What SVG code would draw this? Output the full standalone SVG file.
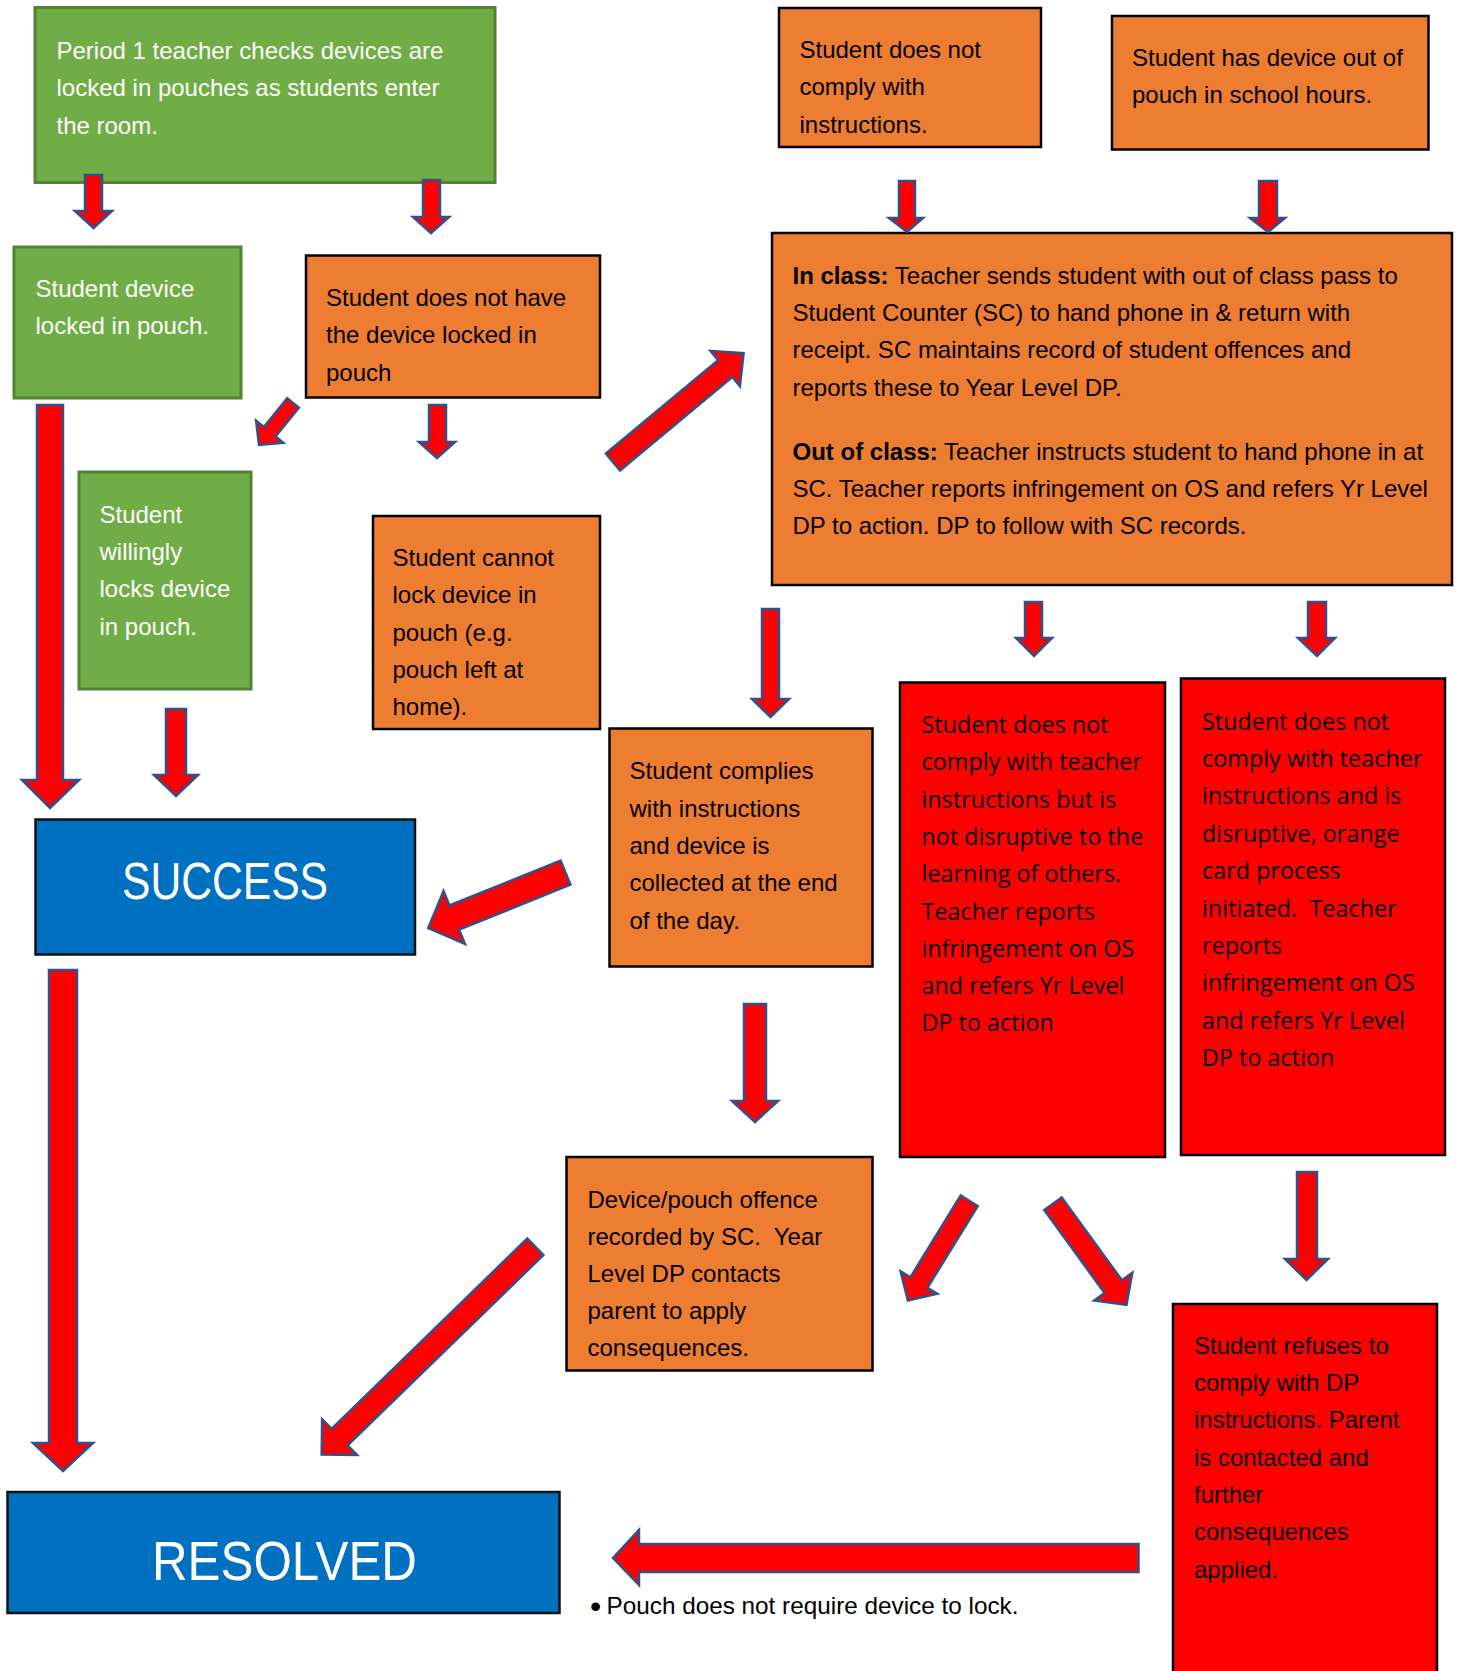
<svg xmlns="http://www.w3.org/2000/svg" width="1459" height="1671" viewBox="0 0 1459 1671">
<style>
.g{fill:#70AD47;stroke:#548235;stroke-width:3}
.o{fill:#ED7D31;stroke:#000;stroke-width:2.5}
.r{fill:#FF0000;stroke:#000;stroke-width:2.5}
.b{fill:#0070C0;stroke:#111;stroke-width:2.5}
.t{font-family:"Liberation Sans",Arial,sans-serif;font-size:24px;fill:#000;white-space:pre}
.w{fill:#fff}
.os{font-family:"Open Sans","Liberation Sans",sans-serif;font-size:23.4px;fill:#000;white-space:pre}
.big{font-family:"Liberation Sans",Arial,sans-serif;fill:#fff;text-anchor:middle}
.a{fill:#FF0000;stroke:#2F528F;stroke-width:2.5;stroke-linejoin:miter}
</style>
<rect width="1459" height="1671" fill="#fff"/>

<g id="n1">
<rect class="g" x="35" y="7.5" width="460" height="175"/>
<text class="t w" x="56.5" y="58.5">Period 1 teacher checks devices are</text>
<text class="t w" x="56.5" y="96">locked in pouches as students enter</text>
<text class="t w" x="56.5" y="133.5">the room.</text>
</g>

<g id="n2">
<rect class="g" x="14" y="247" width="227" height="151"/>
<text class="t w" x="35.5" y="297">Student device</text>
<text class="t w" x="35.5" y="334">locked in pouch.</text>
</g>

<g id="n3">
<rect class="o" x="306" y="255.5" width="294" height="142"/>
<text class="t" x="326" y="305.5">Student does not have</text>
<text class="t" x="326" y="343">the device locked in</text>
<text class="t" x="326" y="380.5">pouch</text>
</g>

<g id="n4">
<rect class="g" x="79" y="472" width="172" height="217"/>
<text class="t w" x="99.5" y="522.5">Student</text>
<text class="t w" x="99.5" y="560">willingly</text>
<text class="t w" x="99.5" y="597">locks device</text>
<text class="t w" x="99.5" y="634.5">in pouch.</text>
</g>

<g id="n5">
<rect class="o" x="373" y="516" width="227" height="213"/>
<text class="t" x="392.5" y="565.5">Student cannot</text>
<text class="t" x="392.5" y="603">lock device in</text>
<text class="t" x="392.5" y="640.5">pouch (e.g.</text>
<text class="t" x="392.5" y="678">pouch left at</text>
<text class="t" x="392.5" y="715">home).</text>
</g>

<g id="n6">
<rect class="o" x="779" y="8" width="262" height="139"/>
<text class="t" x="799.5" y="57.5">Student does not</text>
<text class="t" x="799.5" y="95">comply with</text>
<text class="t" x="799.5" y="132.5">instructions.</text>
</g>

<g id="n7">
<rect class="o" x="1112" y="16" width="316.5" height="133.5"/>
<text class="t" x="1132" y="65.5">Student has device out of</text>
<text class="t" x="1132" y="103">pouch in school hours.</text>
</g>

<g id="n8">
<rect class="o" x="772" y="233" width="680" height="352"/>
<text class="t" x="792.5" y="283.5"><tspan font-weight="bold">In class:</tspan> Teacher sends student with out of class pass to</text>
<text class="t" x="792.5" y="320.8">Student Counter (SC) to hand phone in &amp; return with</text>
<text class="t" x="792.5" y="358.2">receipt. SC maintains record of student offences and</text>
<text class="t" x="792.5" y="395.5">reports these to Year Level DP.</text>
<text class="t" x="792.5" y="459.5"><tspan font-weight="bold">Out of class:</tspan> Teacher instructs student to hand phone in at</text>
<text class="t" x="792.5" y="497">SC. Teacher reports infringement on OS and refers Yr Level</text>
<text class="t" x="792.5" y="534">DP to action. DP to follow with SC records.</text>
</g>

<g id="n9">
<rect class="o" x="609.5" y="728.5" width="263" height="238"/>
<text class="t" x="629.5" y="779">Student complies</text>
<text class="t" x="629.5" y="816.5">with instructions</text>
<text class="t" x="629.5" y="854">and device is</text>
<text class="t" x="629.5" y="891">collected at the end</text>
<text class="t" x="629.5" y="928.5">of the day.</text>
</g>

<g id="n10">
<rect class="b" x="35.5" y="819.5" width="379.5" height="135"/>
<text class="big" x="225" y="899" font-size="51" textLength="206" lengthAdjust="spacingAndGlyphs">SUCCESS</text>
</g>

<g id="n11">
<rect class="o" x="566.5" y="1157" width="306" height="213.5"/>
<text class="t" x="587.5" y="1207.5">Device/pouch offence</text>
<text class="t" x="587.5" y="1244.5">recorded by SC.  Year</text>
<text class="t" x="587.5" y="1282">Level DP contacts</text>
<text class="t" x="587.5" y="1319">parent to apply</text>
<text class="t" x="587.5" y="1356">consequences.</text>
</g>

<g id="n12">
<rect class="r" x="900" y="682.5" width="265" height="474.5"/>
<text class="os" x="921.5" y="733">Student does not</text>
<text class="os" x="921.5" y="770.3">comply with teacher</text>
<text class="os" x="921.5" y="807.6">instructions but is</text>
<text class="os" x="921.5" y="844.9">not disruptive to the</text>
<text class="os" x="921.5" y="882.2">learning of others.</text>
<text class="os" x="921.5" y="919.5">Teacher reports</text>
<text class="os" x="921.5" y="956.8">infringement on OS</text>
<text class="os" x="921.5" y="994.1">and refers Yr Level</text>
<text class="os" x="921.5" y="1031.4">DP to action</text>
</g>

<g id="n13">
<rect class="r" x="1181" y="678.5" width="264" height="476.5"/>
<text class="os" x="1202" y="729.5">Student does not</text>
<text class="os" x="1202" y="766.9">comply with teacher</text>
<text class="os" x="1202" y="804.3">instructions and is</text>
<text class="os" x="1202" y="841.7">disruptive, orange</text>
<text class="os" x="1202" y="879.1">card process</text>
<text class="os" x="1202" y="916.5">initiated.  Teacher</text>
<text class="os" x="1202" y="953.9">reports</text>
<text class="os" x="1202" y="991.3">infringement on OS</text>
<text class="os" x="1202" y="1028.7">and refers Yr Level</text>
<text class="os" x="1202" y="1066.1">DP to action</text>
</g>

<g id="n14">
<rect class="r" x="1173" y="1304" width="264" height="400"/>
<text class="t" x="1194" y="1353.5">Student refuses to</text>
<text class="t" x="1194" y="1391">comply with DP</text>
<text class="t" x="1194" y="1428.3">instructions. Parent</text>
<text class="t" x="1194" y="1465.5">is contacted and</text>
<text class="t" x="1194" y="1502.8">further</text>
<text class="t" x="1194" y="1540">consequences</text>
<text class="t" x="1194" y="1577.5">applied.</text>
</g>

<g id="n15">
<rect class="b" x="7.5" y="1492" width="552" height="121"/>
<text class="big" x="284.5" y="1579.5" font-size="56" textLength="265" lengthAdjust="spacingAndGlyphs">RESOLVED</text>
</g>

<g id="note">
<text class="t" x="590" y="1617" style="font-size:32px">•</text>
<text class="t" x="606.5" y="1614" style="font-size:24.3px">Pouch does not require device to lock.</text>
</g>

<g id="connectors">
<polygon class="a" points="85,175 102,175 102,211 112,211 93.5,228 75,211 85,211"/>
<polygon class="a" points="423,180 440,180 440,217 449,217 431,233 413,217 423,217"/>
<polygon class="a" transform="translate(293,403) rotate(129)" points="0,-7.5 37,-7.5 37,-17.5 54,0 37,17.5 37,7.5 0,7.5"/>
<polygon class="a" points="429,405 446,405 446,442 455,442 437,458 419,442 429,442"/>
<polygon class="a" transform="translate(613,462) rotate(-39.8)" points="0,-11 146,-11 146,-23 170,0 146,23 146,11 0,11"/>
<polygon class="a" points="762,609 779,609 779,699 789,699 770.5,717 752,699 762,699"/>
<polygon class="a" transform="translate(565.5,872.6) rotate(158)" points="0,-13 120,-13 120,-28.5 148,0 120,28.5 120,13 0,13"/>
<polygon class="a" points="37,405 63,405 63,780 79,780 50,808 22,780 37,780"/>
<polygon class="a" points="166,709 186,709 186,775 198,775 176,796 154,775 166,775"/>
<polygon class="a" points="49,970 77,970 77,1443 93,1443 63,1471 33,1443 49,1443"/>
<polygon class="a" transform="translate(535.3,1246.8) rotate(135.8)" points="0,-11.5 273,-11.5 273,-25 298,0 273,25 273,11.5 0,11.5"/>
<polygon class="a" points="744,1004 766,1004 766,1101 778,1101 755,1122 732,1101 744,1101"/>
<polygon class="a" points="899,181 915,181 915,218 923,218 907,232 889,218 899,218"/>
<polygon class="a" points="1259,181 1277,181 1277,218 1285,218 1268,232 1250,218 1259,218"/>
<polygon class="a" points="1025,602 1042,602 1042,638 1052,638 1034,656 1016,638 1025,638"/>
<polygon class="a" points="1308,602 1326,602 1326,638 1335,638 1317,656 1298,638 1308,638"/>
<polygon class="a" transform="translate(969.2,1200.8) rotate(121.6)" points="0,-10 96,-10 96,-21.5 117,0 96,21.5 96,10 0,10"/>
<polygon class="a" transform="translate(1053,1203.7) rotate(54)" points="0,-10.75 102.5,-10.75 102.5,-23.5 125,0 102.5,23.5 102.5,10.75 0,10.75"/>
<polygon class="a" points="1297,1172 1317,1172 1317,1259 1328,1259 1306.5,1280 1285,1259 1297,1259"/>
<polygon class="a" points="1138.5,1544 1138.5,1572 639,1572 639,1585 613,1558 639,1530 639,1544"/>
</g>
</svg>
